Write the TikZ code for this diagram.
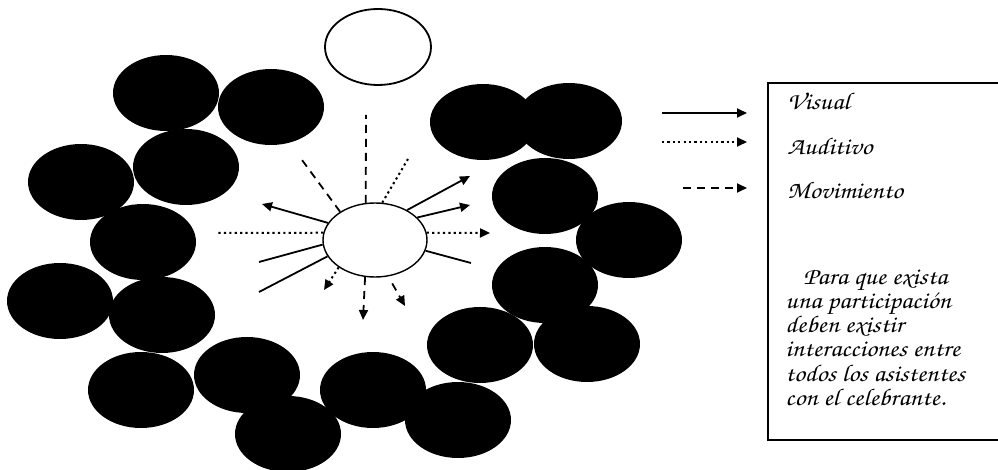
\documentclass[tikz,border=0pt]{standalone}
\usepackage[T1,TU]{fontenc}
\usepackage{graphicx}
\usepackage{tikz}
\usetikzlibrary{arrows.meta, positioning, shapes.geometric}

\newcommand{\calli}{\fontencoding{T1}\fontfamily{pzc}\fontseries{mb}\fontshape{it}\selectfont}
\newcommand{\wide}[1]{\scalebox{1.12}[1]{#1}}

\begin{document}
\begin{tikzpicture}[
    x=0.5pt, y=-0.5pt,
    guest/.style={ellipse, fill=black, minimum width=53pt, minimum height=38pt, inner sep=0pt},
    host/.style={ellipse, draw, line width=0.7pt, minimum width=52pt, minimum height=37pt, inner sep=0pt},
    visual/.style={line width=0.9pt},
    audio/.style={line width=1pt, dash pattern=on 1.1pt off 1.6pt},
    moving/.style={line width=0.9pt, dash pattern=on 4pt off 3pt},
    tip/.style={-{Triangle[length=5pt, width=4.5pt]}},
    note/.style={font=\calli\fontsize{12}{12}\selectfont, inner sep=0pt},
  ]
    \useasboundingbox (0,0) rectangle (998,470);

    % ── Asistentes (left and bottom) ──
    \node[guest] (g-1) at (166,93) {};
    \node[guest] (g-2) at (271,107) {};
    \node[guest] (g-3) at (81,182) {};
    \node[guest] (g-4) at (186,167) {};
    \node[guest] (g-5) at (143,242) {};
    \node[guest] (g-6) at (60,301) {};
    \node[guest] (g-7) at (162,315) {};
    \node[guest] (g-8) at (141,390) {};
    \node[guest] (g-9) at (247,375) {};
    \node[guest] (g-10) at (288,434) {};
    \node[guest] (g-11) at (373,390) {};
    \node[guest] (g-12) at (458,420) {};
    % ── Asistentes (right) ──
    \node[guest] (g-13) at (483,122) {};
    \node[guest] (g-14) at (569,121) {};
    \node[guest] (g-15) at (545,196) {};
    \node[guest] (g-16) at (629,240) {};
    \node[guest] (g-17) at (545,285) {};
    \node[guest] (g-18) at (480,345) {};
    \node[guest] (g-19) at (587,344) {};

    % ── Celebrante and empty place ──
    \node[host, line width=0.9pt, minimum width=53pt, minimum height=38pt] (top) at (378,47) {};
    \node[host] (cel) at (375,240) {};

    % Ray ends
    \coordinate (r-up) at (366,115);
    \coordinate (r-ul) at (302,160);
    \coordinate (r-ur) at (408,159);
    \coordinate (r-ne1) at (470,176);
    \coordinate (r-ne2) at (470,205);
    \coordinate (r-e) at (490,233);
    \coordinate (r-se) at (471,263);
    \coordinate (r-nw) at (262,204);
    \coordinate (r-w) at (217,233);
    \coordinate (r-sw1) at (259,262);
    \coordinate (r-sw2) at (259,292);
    \coordinate (r-ssw) at (324,290);
    \coordinate (r-s) at (363,320);
    \coordinate (r-sse) at (405,306);
    % Movimiento (dashed)
    \draw[moving] (cel.104) -- (r-up);
    \draw[moving] (cel.141) -- (r-ul);
    \draw[moving, tip] (cel.255) -- (r-s);
    \draw[moving, tip, shorten <=4pt] (cel.290) -- (r-sse);
    % Auditivo (dotted)
    \draw[audio] (cel.79) -- (r-ur);
    \draw[audio, tip] (cel.8) -- (r-e);
    \draw[audio] (cel.172) -- (r-w);
    \draw[audio, tip] (cel.217) -- (r-ssw);
    % Visual (solid)
    \draw[visual, tip] (cel.43) -- (r-ne1);
    \draw[visual, tip] (cel.28) -- (r-ne2);
    \draw[visual] (cel.-12) -- (r-se);
    \draw[visual, tip] (cel.160) -- (r-nw);
    \draw[visual] (cel.185) -- (r-sw1);
    \draw[visual] (cel.199) -- (r-sw2);

    % ── Legend ──
    \coordinate (v-a) at (662,113);
    \coordinate (v-b) at (747,113);
    \coordinate (a-a) at (662,142);
    \coordinate (a-b) at (747,142);
    \coordinate (m-a) at (683,188);
    \coordinate (m-b) at (747,188);
    \draw[visual, tip] (v-a) -- (v-b);
    \draw[audio, tip] (a-a) -- (a-b);
    \draw[moving, tip] (m-a) -- (m-b);
    % box, running off the right edge
    \draw[line width=0.8pt] (1030,83) -- (768,83) -- (768,440) -- (1030,440);
    \node[note, anchor=west] (lab-v) at (787,101) {\wide{Visual}};
    \node[note, anchor=west] (lab-a) at (787,146) {\wide{Auditivo}};
    \node[note, anchor=west] (lab-m) at (787,190) {\wide{Movimiento}};
    \node[note, anchor=north west] (txt) at (785,267) {\wide{\begin{tabular}{@{}l@{}}
      \hspace*{8pt}Para que exista\\
      una participaci\'on\\
      deben existir\\
      interacciones entre\\
      todos los asistentes\\
      con el celebrante.
    \end{tabular}}};
  \end{tikzpicture}
\end{document}
